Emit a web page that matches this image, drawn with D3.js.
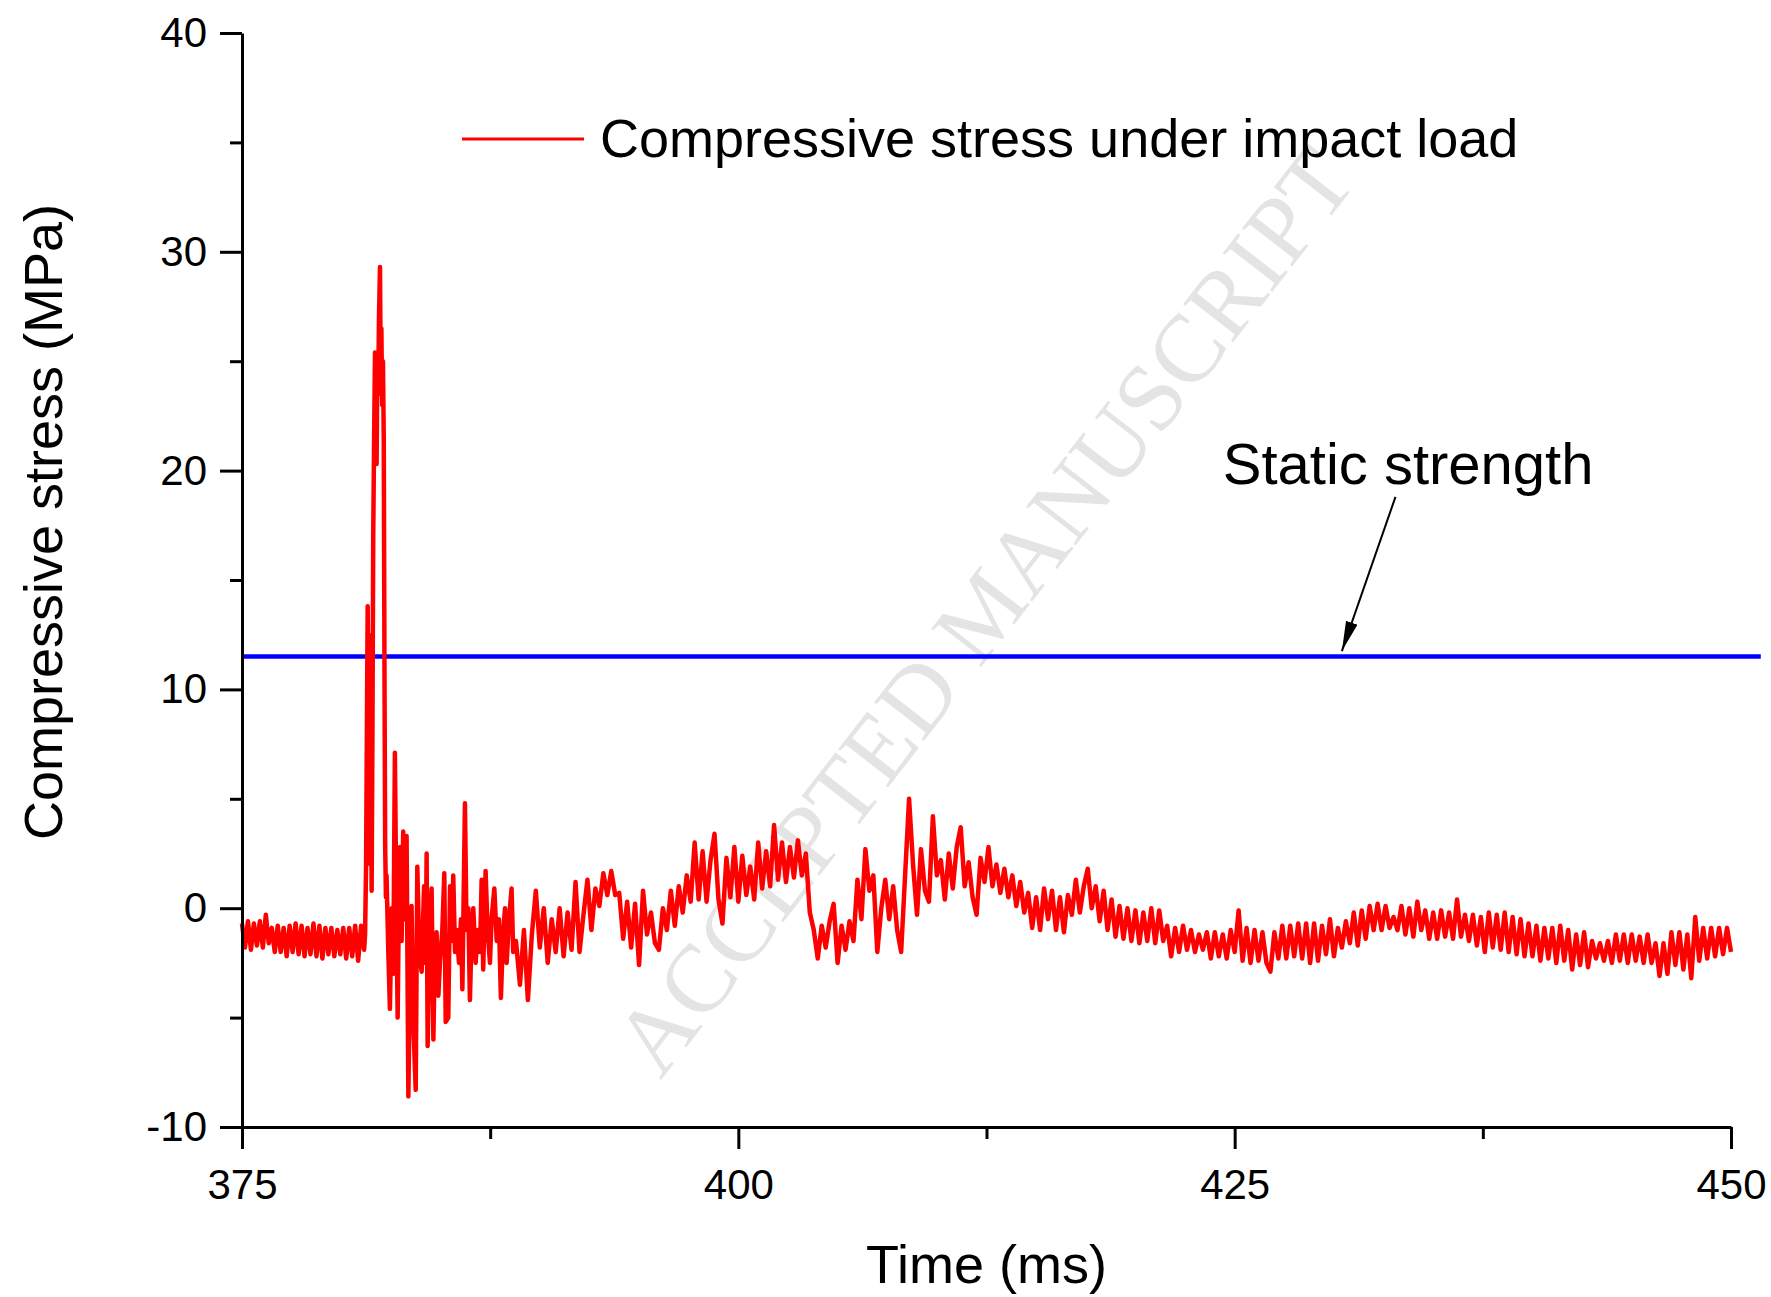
<!DOCTYPE html>
<html>
<head>
  <meta charset="utf-8">
  <title>Compressive stress under impact load</title>
  <script src="https://d3js.org/d3.v7.min.js"></script>
  <style>
    body { margin: 0; background: #fff; }
    svg { display: block; font-family: "Liberation Sans", Arial, sans-serif; }
    .axis path, .axis line { stroke: #000; stroke-width: 3; }
    .axis text { font-size: 42px; fill: #000; }
  </style>
</head>
<body>
<script>

  // axis setup
  var timeDomain = [375, 450],
      stressDomain = [-10, 40],
      timeTicks = [375, 400, 425, 450],
      timeMinorTicks = [387.5, 412.5, 437.5],
      stressTicks = [-10, 0, 10, 20, 30, 40],
      stressMinorTicks = [-5, 5, 15, 25, 35];

  // static strength reference (MPa) and the time span the blue line covers
  var staticStrength = 11.5,
      staticSpan = [375, 451.5];

  // quiet part before the impact, one sample every 0.15 ms from 375 ms
  var baselineStart = 375, baselineStep = 0.15;
  var baselineStress = [
    -0.7, -1.8, -0.6, -1.9, -0.7, -1.7, -0.6, -1.8, -0.3, -1.6,
    -0.9, -2.0, -0.8, -2.0, -0.9, -2.2, -0.8, -2.0, -0.7, -2.1,
    -0.8, -2.2, -0.9, -2.1, -0.7, -2.2, -0.8, -2.3, -0.9, -2.1,
    -0.9, -2.2, -1.0, -2.1, -0.9, -2.3, -0.9, -2.2, -0.8, -2.4,
    -0.8, -1.9
  ];

  // impact pulse and the ringing after it, [time ms, stress MPa]
  var impactPulse = [
    [381.20, -1.2], [381.25, 2.0], [381.30, 9.5], [381.33, 13.8], [381.36, 9.0],
    [381.38, 12.5], [381.41, 4.5], [381.44, 8.0], [381.47, 2.0], [381.50, 5.5],
    [381.53, 0.8], [381.57, 8.0], [381.61, 17.0], [381.66, 22.0], [381.70, 25.4],
    [381.74, 23.0], [381.78, 20.3], [381.82, 25.2], [381.86, 23.5], [381.90, 27.0],
    [381.95, 29.3], [381.99, 24.0], [382.02, 26.5], [382.06, 23.0], [382.10, 25.0],
    [382.14, 21.5], [382.18, 10.0], [382.21, 3.0], [382.25, 0.5], [382.28, 1.5],
    [382.37, -2.0], [382.45, -4.6], [382.54, 0.0], [382.62, -3.0], [382.70, 7.1],
    [382.77, 0.5], [382.84, -5.0], [382.91, 1.0], [382.96, 2.8], [383.04, -1.5],
    [383.12, 3.5], [383.21, -0.5], [383.29, 3.3], [383.38, -8.6], [383.46, -3.0],
    [383.54, 0.1], [383.64, -5.5], [383.75, -8.3], [383.83, 1.9], [383.93, -2.0],
    [384.05, -2.9], [384.17, 1.0], [384.25, -2.5], [384.30, 2.5], [384.35, -6.3],
    [384.45, -1.0], [384.55, 0.9], [384.64, -6.0], [384.72, -1.5], [384.80, -1.1],
    [384.89, -4.0], [384.97, -2.5], [385.09, -1.0], [385.19, 1.6], [385.26, -5.2],
    [385.39, -5.0], [385.48, 1.0], [385.56, -1.5], [385.64, 1.5], [385.73, -2.0],
    [385.81, -1.0], [385.93, -2.5], [386.03, -0.5], [386.10, -3.7], [386.23, 4.8],
    [386.31, -1.0], [386.40, 0.0], [386.48, -4.2], [386.57, -1.0], [386.65, 0.0],
    [386.77, -2.5], [386.87, -1.0], [386.99, -2.0], [387.07, 1.3], [387.15, -2.8],
    [387.27, 1.7], [387.37, -1.0], [387.49, -2.5], [387.57, -0.5], [387.71, 0.9],
    [387.83, -1.5], [387.94, -0.5], [388.04, -4.1], [388.16, -1.0], [388.25, 0.0],
    [388.33, -2.5], [388.45, -0.5], [388.58, 0.9], [388.66, -2.0]
  ];

  // the rest is sampled every 0.2 ms
  var sampleStep = 0.2;

  var recoveryStart = 388.8;
  var recoveryStress = [
    -1.5, -3.5, -1.0, -4.2, -1.2,   0.8, -1.8, 0.0, -2.5, -0.5,
    -2.0, 0.0, -2.2, -0.2, -1.9,    1.2, -2.0, -0.3, 1.3, -1.0,
    0.9, 0.1, 1.6, 0.6, 1.7,        0.6, 0.7, -1.4, 0.3, -1.8,
    0.2, -2.6, 0.8, -1.2, -0.2,     -1.6, -1.9, 0.0, -1.0, 0.8,
    -0.8, 1.0, -0.2, 1.5, 0.3,      3.0, 0.4, 2.6, 0.3, 2.2,
    3.4, 0.4, -0.7, 2.3, 0.5,       2.8, 0.3, 2.4, 0.6, 1.9,
    0.4, 3.0, 0.9, 2.6, 1.0,        3.8, 1.3, 3.0, 1.2, 2.8,
    1.4, 3.1, 1.5, 2.5, -0.2,       -1.0, -2.3, -0.8, -1.8, -0.6,
    0.2, -2.5, -0.8, -1.9, -0.6,    -1.5, 1.3, -0.5, 2.7, 0.8,
    1.5, -2.0, 0.0, 1.3, -0.5
  ];

  var decayStart = 407.8;
  var decayStress = [
    1.0, -1.0, -2.0, 1.5, 5.0,      2.0, -0.3, 2.7, 0.8, 0.3,
    4.2, 1.5, 2.2, 0.4, 2.5,        0.9, 2.8, 3.7, 1.0, 2.1,
    0.5, -0.3, 2.3, 1.2, 2.8,       1.0, 2.0, 0.7, 1.8, 0.5,
    1.5, 0.1, 1.2, -0.2, 0.7,       -0.9, 0.5, -1.0, 0.9, -0.5,
    0.8, -1.0, 0.5, -1.1, 0.6,      -0.3, 1.3, -0.2, 1.0, 1.8,
    0.0, 1.0, -0.6, 0.8, -1.0,      0.4, -1.3, 0.1, -1.4, 0.0,
    -1.5, -0.1, -1.6, -0.2, -1.5,   0.0, -1.6, -0.1, -1.5, -0.8,
    -2.2, -0.9, -2.0, -0.8, -1.9,   -1.0, -2.0, -1.2, -1.9, -1.1,
    -2.3, -1.1, -2.2, -1.2, -2.3,   -1.0, -2.0, -0.1, -2.4, -0.9,
    -2.5, -1.0, -2.4, -1.1, -2.5,   -2.9, -1.1, -2.3, -0.8, -2.3,
    -0.8, -2.2, -0.7, -2.3, -0.7
  ];

  var tailStart = 428.8;
  var tailStress = [
    -2.5, -0.7, -2.4, -0.8, -2.1,   -0.5, -2.2, -0.9, -1.8, -0.6,
    -1.6, -0.2, -1.7, -0.1, -1.4,   0.1, -1.0, 0.2, -1.0, 0.1,
    -0.9, -0.4, -1.0, 0.1, -1.2,    0.0, -1.3, 0.3, -1.0, -0.1,
    -1.4, -0.2, -1.4, -0.1, -1.3,   -0.2, -1.4, 0.4, -1.3, -0.3,
    -1.5, -0.3, -1.7, -0.4, -2.0,   -0.2, -1.8, -0.3, -1.9, -0.2,
    -2.0, -0.4, -2.1, -0.5, -2.2,   -0.7, -2.2, -0.8, -2.4, -0.9,
    -2.3, -0.9, -2.5, -0.8, -2.4,   -1.0, -2.8, -1.2, -2.6, -1.1,
    -2.7, -1.5, -2.3, -1.6, -2.4,   -1.5, -2.5, -1.2, -2.4, -1.2,
    -2.5, -1.2, -2.4, -1.3, -2.5,   -1.2, -2.5, -1.6, -3.1, -1.6,
    -3.0, -1.1, -2.6, -1.1, -2.8,   -1.2, -3.2, -0.4, -2.4, -0.9,
    -2.3, -0.9, -2.2, -0.9, -2.1,   -0.9, -2.0
  ];

  // annotation: label and arrow (data coordinates)
  var staticLabel = { text: "Static strength", t: 424.4, v: 19.4 },
      arrowFrom = [433.1, 18.8],
      arrowTo = [430.4, 11.75];

  var width = 1771,
      height = 1297,
      margin = { top: 33, right: 40, bottom: 170, left: 242 };

  function sampled(start, step, values) {
    return values.map(function(v, i) { return [start + i * step, v]; });
  }

  var stress = []
    .concat(sampled(baselineStart, baselineStep, baselineStress))
    .concat(impactPulse)
    .concat(sampled(recoveryStart, sampleStep, recoveryStress))
    .concat(sampled(decayStart, sampleStep, decayStress))
    .concat(sampled(tailStart, sampleStep, tailStress));

  var x = d3.scaleLinear().domain(timeDomain).range([margin.left, width - margin.right]);
  var y = d3.scaleLinear().domain(stressDomain).range([height - margin.bottom, margin.top]);

  var line = d3.line()
      .x(function(d) { return x(d[0]); })
      .y(function(d) { return y(d[1]); });

  var svg = d3.select("body").append("svg")
      .attr("width", width)
      .attr("height", height);

  // journal watermark behind the data
  svg.append("text")
      .attr("transform", "translate(983,610) rotate(-52.2)")
      .attr("text-anchor", "middle")
      .attr("dy", "0.35em")
      .style("font-family", "'Liberation Serif', 'Times New Roman', serif")
      .style("font-size", "96px")
      .style("fill", "#e4e4e4")
      .text("ACCEPTED MANUSCRIPT");

  // static strength line
  svg.append("path")
      .datum(staticSpan.map(function(t) { return [t, staticStrength]; }))
      .attr("fill", "none")
      .attr("stroke", "#0000ff")
      .attr("stroke-width", 4.5)
      .attr("d", line);

  // measured stress
  svg.append("path")
      .datum(stress)
      .attr("fill", "none")
      .attr("stroke", "#ff0000")
      .attr("stroke-width", 4.5)
      .attr("stroke-linejoin", "round")
      .attr("d", line);

  // axes
  var fmt = function(d) { return String(d); };

  svg.append("g")
      .attr("class", "axis")
      .attr("transform", "translate(0," + y.range()[0] + ")")
      .call(d3.axisBottom(x).tickValues(timeTicks).tickFormat(fmt)
        .tickSize(22).tickSizeOuter(0).tickPadding(20));

  svg.append("g")
      .attr("class", "axis")
      .attr("transform", "translate(0," + y.range()[0] + ")")
      .call(d3.axisBottom(x).tickValues(timeMinorTicks).tickFormat("").tickSize(12).tickSizeOuter(0))
      .select(".domain").remove();

  svg.append("g")
      .attr("class", "axis")
      .attr("transform", "translate(" + x.range()[0] + ",0)")
      .call(d3.axisLeft(y).tickValues(stressTicks).tickFormat(fmt)
        .tickSize(22).tickSizeOuter(0).tickPadding(13));

  svg.append("g")
      .attr("class", "axis")
      .attr("transform", "translate(" + x.range()[0] + ",0)")
      .call(d3.axisLeft(y).tickValues(stressMinorTicks).tickFormat("").tickSize(12).tickSizeOuter(0))
      .select(".domain").remove();

  // axis titles
  svg.append("text")
      .attr("x", (x.range()[0] + x.range()[1]) / 2)
      .attr("y", 1283)
      .attr("text-anchor", "middle")
      .style("font-size", "54px")
      .text("Time (ms)");

  svg.append("text")
      .attr("transform", "translate(62,522) rotate(-90)")
      .attr("text-anchor", "middle")
      .style("font-size", "54px")
      .text("Compressive stress (MPa)");

  // legend
  var legend = svg.append("g").attr("transform", "translate(462,139)");
  legend.append("line")
      .attr("x1", 0).attr("x2", 122)
      .attr("stroke", "#ff0000")
      .attr("stroke-width", 3);
  legend.append("text")
      .attr("x", 138)
      .attr("y", 18)
      .style("font-size", "54px")
      .text("Compressive stress under impact load");

  // static strength annotation
  svg.append("defs").append("marker")
      .attr("id", "arrowhead")
      .attr("markerUnits", "userSpaceOnUse")
      .attr("viewBox", "0 0 30 12")
      .attr("markerWidth", 30)
      .attr("markerHeight", 12)
      .attr("refX", 30)
      .attr("refY", 6)
      .attr("orient", "auto")
    .append("path")
      .attr("d", "M0,0L30,6L0,12z")
      .attr("fill", "#000");

  svg.append("line")
      .attr("x1", x(arrowFrom[0])).attr("y1", y(arrowFrom[1]))
      .attr("x2", x(arrowTo[0])).attr("y2", y(arrowTo[1]))
      .attr("stroke", "#000")
      .attr("stroke-width", 2)
      .attr("marker-end", "url(#arrowhead)");

  svg.append("text")
      .attr("x", x(staticLabel.t))
      .attr("y", y(staticLabel.v))
      .style("font-size", "58px")
      .text(staticLabel.text);

</script>
</body>
</html>
